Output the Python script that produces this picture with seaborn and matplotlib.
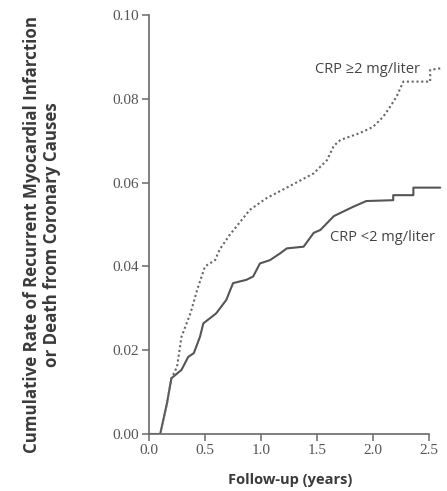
import matplotlib
matplotlib.use("Agg")
import matplotlib.pyplot as plt
import seaborn as sns
import pandas as pd

# cumulative event rate, CRP < 2 mg/liter (solid)
low_years = [0.00, 0.10, 0.16, 0.20, 0.29, 0.35, 0.40, 0.455, 0.485, 0.60, 0.69, 0.75,
             0.87, 0.93, 0.99, 1.08, 1.17, 1.23, 1.38, 1.47, 1.53, 1.65, 1.82, 1.94,
             2.18, 2.18, 2.36, 2.36, 2.60]
low_rate = [0.0, 0.0, 0.0073, 0.0133, 0.0153, 0.0184, 0.0193, 0.0232, 0.0264, 0.0288, 0.032, 0.036,
            0.0368, 0.0376, 0.0407, 0.0415, 0.0431, 0.0443, 0.0447, 0.048, 0.0487, 0.052, 0.0542, 0.0556,
            0.0558, 0.057, 0.057, 0.0588, 0.0588]

# cumulative event rate, CRP >= 2 mg/liter (dotted)
high_years = [0.00, 0.10, 0.16, 0.20, 0.25, 0.29, 0.37, 0.43, 0.50, 0.59, 0.63, 0.72,
              0.81, 0.90, 1.05, 1.23, 1.35, 1.47, 1.59, 1.65, 1.71, 1.88, 2.00, 2.09,
              2.15, 2.21, 2.27, 2.51, 2.51, 2.61]
high_rate = [0.0, 0.0, 0.0073, 0.0133, 0.016, 0.0232, 0.0288, 0.0344, 0.040, 0.0415, 0.044, 0.0475,
             0.0505, 0.0535, 0.0563, 0.0588, 0.0605, 0.0622, 0.0654, 0.0688, 0.0702, 0.0718, 0.0733, 0.0757,
             0.078, 0.0805, 0.0841, 0.0841, 0.0869, 0.0873]

x_ticks = [0.0, 0.5, 1.0, 1.5, 2.0, 2.5]
y_ticks = [0.00, 0.02, 0.04, 0.06, 0.08, 0.10]

sns.set_style("ticks")
plt.rcParams['font.family'] = ['Open Sans', 'DejaVu Sans']

fig = plt.figure(figsize=(4.47, 4.91), dpi=100)
ax = fig.add_axes([149 / 447, 57 / 491, 293.5 / 447, 419 / 491])

low_df = pd.DataFrame({'years': low_years, 'rate': low_rate})
high_df = pd.DataFrame({'years': high_years, 'rate': high_rate})
sns.lineplot(data=low_df, x='years', y='rate', estimator=None, sort=False, ax=ax,
             color='#555555', linewidth=1.5)
sns.lineplot(data=high_df, x='years', y='rate', estimator=None, sort=False, ax=ax,
             color='#666666', linewidth=1.5, linestyle=(0, (1, 1.3)))

ax.set_xlim(0, 2.62)
ax.set_ylim(0, 0.10)
ax.set_xticks(x_ticks)
ax.set_yticks(y_ticks)
ax.set_xticklabels([f'{v:.1f}' for v in x_ticks])
ax.set_yticklabels([f'{v:.2f}' for v in y_ticks])
ax.set_xlabel('')
ax.set_ylabel('')
sns.despine(ax=ax)
ax.spines['bottom'].set_bounds(0, 2.5)
for s in ['left', 'bottom']:
    ax.spines[s].set_color('#6a6a6a')
    ax.spines[s].set_linewidth(1.2)
ax.tick_params(colors='#6a6a6a', length=5, width=1.1, labelcolor='#555555', pad=2)
for lab in ax.get_xticklabels() + ax.get_yticklabels():
    lab.set_family(['Liberation Serif', 'DejaVu Serif'])
    lab.set_fontsize(11)

ax.text(2.42, 0.0869, 'CRP \u22652 mg/liter', ha='right', va='center', fontsize=10.5, color='#444444')
ax.text(1.62, 0.0468, 'CRP <2 mg/liter', ha='left', va='center', fontsize=10.5, color='#444444')

fig.text(290 / 447, 1 - 480 / 491, 'Follow-up (years)', ha='center', va='center',
         fontsize=10.5, fontweight='bold', color='#3a3a3a')
fig.text(42 / 447, 1 - 235 / 491,
         'Cumulative Rate of Recurrent Myocardial Infarction\nor Death from Coronary Causes',
         ha='center', va='center', rotation=90, multialignment='center',
         fontsize=12.2, fontweight='bold', color='#3a3a3a', linespacing=1.1)

fig.savefig('out.png', dpi=100)
